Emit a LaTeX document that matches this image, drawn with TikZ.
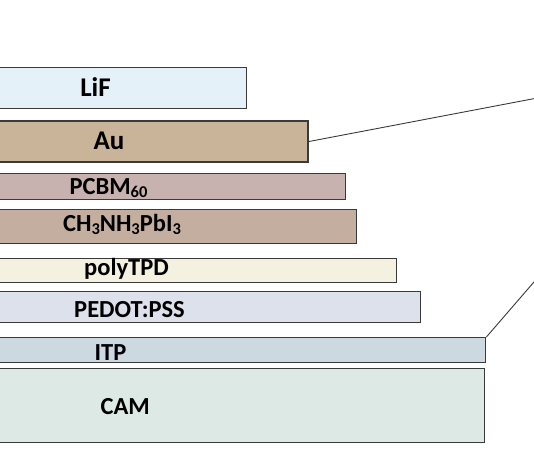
\documentclass[tikz,border=0pt]{standalone}
\usepackage{fontspec}
\setmainfont{Carlito}
\definecolor{cLiF}{HTML}{E4F1F8}
\definecolor{cAu}{HTML}{C9B399}
\definecolor{cPCBM}{HTML}{C8B2AF}
\definecolor{cPero}{HTML}{C4AE9F}
\definecolor{cTPD}{HTML}{F4F1E1}
\definecolor{cPEDOT}{HTML}{DCE1EB}
\definecolor{cITP}{HTML}{CCD9E1}
\definecolor{cCAM}{HTML}{DDE9E4}
\definecolor{edge}{HTML}{3A3A3A}
\newcommand\lowsub[1]{\raisebox{-0.16em}{\fontsize{16.5}{17}\selectfont #1}}
\begin{document}
\begin{tikzpicture}[x=1pt,y=-1pt,
  layer/.style={draw=edge, line width=1.4pt, inner sep=0pt, anchor=north west},
  lbl/.style={font=\fontsize{24.5}{28}\selectfont\bfseries, text=black, inner sep=0pt, anchor=base},
  big/.style={font=\fontsize{27}{30}\selectfont\bfseries},
  conn/.style={draw=edge, line width=0.9pt}]
\useasboundingbox (0,0) rectangle (534,462);
\clip (0,0) rectangle (534,462);
\fill[white] (0,0) rectangle (534,462);
\node[layer, fill=cLiF, minimum width=256pt, minimum height=41pt] (lif) at (-10,67) {};
\node[layer, fill=cAu, line width=2pt, minimum width=317pt, minimum height=41pt] (au) at (-10,120) {};
\node[layer, fill=cPCBM, minimum width=355pt, minimum height=26pt] (pcbm) at (-10,173) {};
\node[layer, fill=cPero, minimum width=366pt, minimum height=34pt] (pero) at (-10,209) {};
\node[layer, fill=cTPD, minimum width=406pt, minimum height=24pt] (tpd) at (-10,258) {};
\node[layer, fill=cPEDOT, minimum width=430pt, minimum height=31pt] (pedot) at (-10,291) {};
\node[layer, fill=cITP, minimum width=495pt, minimum height=25pt] (itp) at (-10,337) {};
\node[layer, fill=cCAM, minimum width=494pt, minimum height=74pt] (cam) at (-10,368) {};
\node[lbl, big] (tlif) at (95.5,97) {LiF};
\node[lbl, big] (tau) at (109,149.5) {Au};
\node[lbl] (tpcbm) at (108.5,194) {PCBM\lowsub{60}};
\node[lbl] (tpero) at (122,231) {CH\lowsub{3}NH\lowsub{3}PbI\lowsub{3}};
\node[lbl] (ttpd) at (126.5,275) {polyTPD};
\node[lbl] (tpedot) at (129.5,317) {PEDOT:PSS};
\node[lbl] (titp) at (110.5,360) {ITP};
\node[lbl] (tcam) at (125.3,414) {CAM};
\coordinate (auend) at (540,97.5);
\coordinate (itpend) at (540,275);
\draw[conn] (au.east) -- (auend);
\draw[conn] (itp.north east) -- (itpend);
\end{tikzpicture}
\end{document}
